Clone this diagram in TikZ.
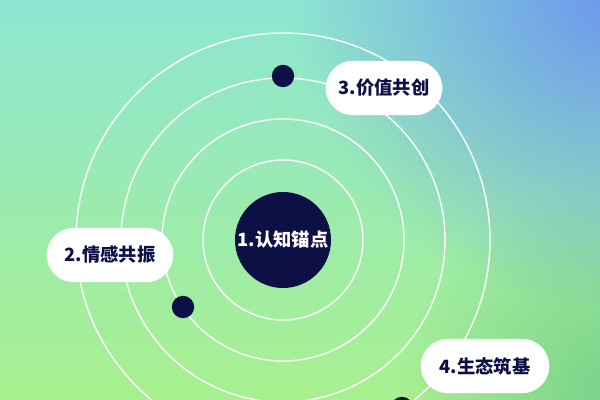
\documentclass[tikz,border=0pt]{standalone}
\usepackage{fontspec}
\newfontfamily\cjk{Noto Sans CJK SC}
\usetikzlibrary{shapes.misc}
\usetikzlibrary{fadings}
\definecolor{navy}{HTML}{0D1045}
\definecolor{bgTop}{HTML}{8EE6D2}
\definecolor{bgBot}{HTML}{A8F08E}
\definecolor{bgBlue}{HTML}{6A94EE}
\definecolor{bgDeep}{HTML}{78D08C}
\tikzfading[name=glow, inner color=transparent!0, outer color=transparent!100]

\begin{document}
\begin{tikzpicture}[x=0.025cm,y=-0.025cm,
	ring/.style={draw=white, line width=1pt},
	planet/.style={circle, fill=navy, minimum size=0.56cm, inner sep=0pt},
	pill/.style={rounded rectangle, fill=white, minimum width=3.3cm, minimum height=1.36cm,
		text=navy, font=\cjk\bfseries\fontsize{13}{15}\selectfont}]
	
	\useasboundingbox (0,0) rectangle (600,400);
	\clip (0,0) rectangle (600,400);
	
	% background
	\shade[top color=bgTop, bottom color=bgBot] (0,0) rectangle (600,400);
	\fill[bgDeep, path fading=glow] (620,400) circle [radius=220];
	\fill[bgBlue, path fading=glow] (620,-20) circle [radius=330];
	
	% orbits
	\foreach \r in {80,121,162,207}
		\draw[ring] (283,240) circle [radius=\r];
	
	% planets
	\node[circle, fill=navy, minimum size=2.4cm, inner sep=0pt, text=white,
		font=\cjk\bfseries\fontsize{13}{15}\selectfont] (core) at (283,240) {1.认知锚点};
	\node[planet] (dotA) at (283,76) {};
	\node[planet] (dotB) at (183,307) {};
	\node[planet] (dotC) at (402,408) {};
	
	% labels
	\node[pill, minimum width=3.15cm] (value) at (384,88) {3.价值共创};
	\node[pill, minimum width=3.4cm] (emotion) at (110,255) {2.情感共振};
	\node[pill, minimum width=3.45cm] (eco) at (485,366) {4.生态筑基};
	
\end{tikzpicture}
\end{document}
